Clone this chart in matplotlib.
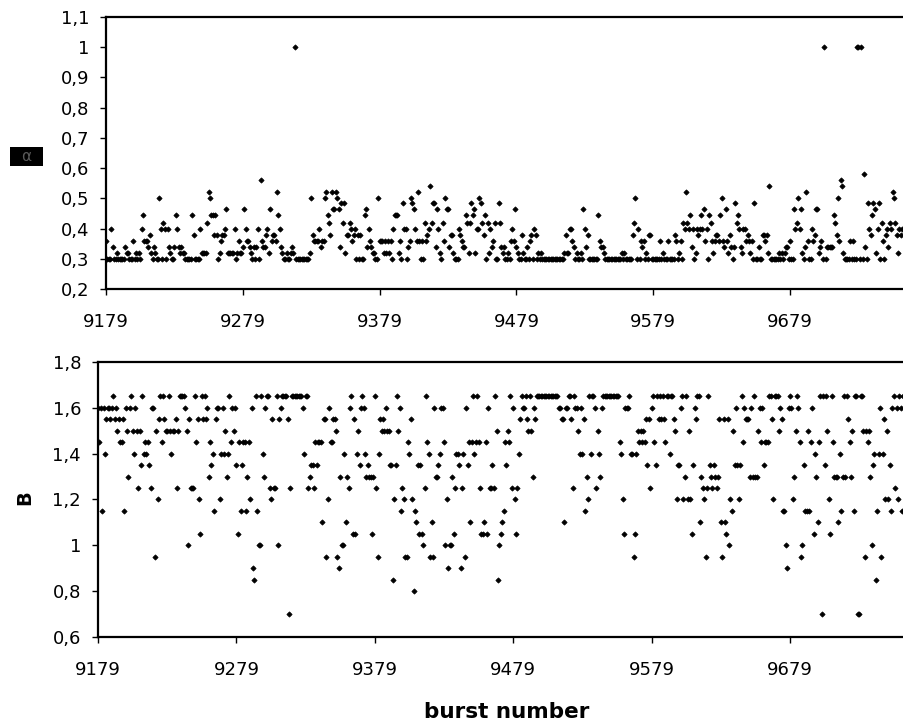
import numpy as np
import matplotlib
matplotlib.use('Agg')
import matplotlib.pyplot as plt
import matplotlib.patches as patches
from matplotlib.ticker import FixedLocator, FuncFormatter

# first burst shown, one value per burst from here on
first_burst = 9179

# upper panel values (one per burst)
alpha = [
    0.36, 0.30, 0.30, 0.30, 0.40, 0.34, 0.30, 0.30, 0.32, 0.30,
    0.30, 0.30, 0.30, 0.30, 0.34, 0.32, 0.32, 0.30, 0.30, 0.30,
    0.36, 0.30, 0.32, 0.30, 0.32, 0.30, 0.40, 0.445, 0.36, 0.36,
    0.36, 0.34, 0.38, 0.32, 0.30, 0.34, 0.32, 0.30, 0.30, 0.50,
    0.40, 0.30, 0.42, 0.40, 0.30, 0.40, 0.34, 0.32, 0.30, 0.30,
    0.34, 0.445, 0.40, 0.34, 0.32, 0.34, 0.32, 0.32, 0.30, 0.30,
    0.30, 0.30, 0.30, 0.445, 0.38, 0.30, 0.30, 0.30, 0.30, 0.40,
    0.32, 0.32, 0.32, 0.32, 0.42, 0.52, 0.50, 0.445, 0.445, 0.38,
    0.445, 0.38, 0.30, 0.32, 0.36, 0.38, 0.38, 0.40, 0.465, 0.32,
    0.32, 0.32, 0.32, 0.32, 0.40, 0.30, 0.32, 0.36, 0.32, 0.32,
    0.34, 0.465, 0.40, 0.36, 0.36, 0.34, 0.32, 0.30, 0.34, 0.30,
    0.34, 0.40, 0.30, 0.56, 0.36, 0.34, 0.34, 0.38, 0.40, 0.32,
    0.465, 0.36, 0.38, 0.38, 0.36, 0.52, 0.445, 0.40, 0.34, 0.32,
    0.30, 0.30, 0.32, 0.30, 0.30, 0.32, 0.34, 0.32, 1.00, 0.30,
    0.30, 0.30, 0.30, 0.30, 0.30, 0.30, 0.30, 0.30, 0.30, 0.32,
    0.50, 0.38, 0.36, 0.36, 0.36, 0.36, 0.40, 0.34, 0.36, 0.36,
    0.50, 0.52, 0.445, 0.42, 0.38, 0.52, 0.465, 0.465, 0.52, 0.50,
    0.465, 0.34, 0.485, 0.42, 0.485, 0.32, 0.38, 0.38, 0.42, 0.40,
    0.36, 0.38, 0.40, 0.30, 0.38, 0.30, 0.38, 0.30, 0.30, 0.445,
    0.465, 0.34, 0.40, 0.36, 0.34, 0.32, 0.32, 0.30, 0.30, 0.50,
    0.36, 0.36, 0.36, 0.32, 0.36, 0.32, 0.36, 0.32, 0.36, 0.30,
    0.40, 0.445, 0.445, 0.445, 0.32, 0.36, 0.30, 0.485, 0.40, 0.40,
    0.30, 0.34, 0.36, 0.50, 0.485, 0.465, 0.40, 0.36, 0.52, 0.36,
    0.30, 0.36, 0.30, 0.42, 0.36, 0.38, 0.40, 0.54, 0.42, 0.485,
    0.485, 0.34, 0.465, 0.40, 0.32, 0.30, 0.42, 0.36, 0.50, 0.465,
    0.465, 0.34, 0.38, 0.38, 0.32, 0.30, 0.30, 0.30, 0.40, 0.38,
    0.36, 0.34, 0.34, 0.445, 0.42, 0.32, 0.42, 0.485, 0.445, 0.465,
    0.32, 0.40, 0.40, 0.50, 0.485, 0.42, 0.38, 0.445, 0.30, 0.42,
    0.32, 0.40, 0.34, 0.36, 0.42, 0.30, 0.30, 0.485, 0.42, 0.34,
    0.32, 0.34, 0.30, 0.30, 0.32, 0.30, 0.36, 0.40, 0.36, 0.465,
    0.34, 0.32, 0.30, 0.30, 0.38, 0.32, 0.30, 0.30, 0.34, 0.30,
    0.36, 0.38, 0.30, 0.40, 0.38, 0.30, 0.32, 0.30, 0.32, 0.30,
    0.30, 0.30, 0.30, 0.30, 0.30, 0.30, 0.30, 0.30, 0.30, 0.30,
    0.30, 0.30, 0.30, 0.30, 0.30, 0.32, 0.38, 0.32, 0.32, 0.40,
    0.40, 0.36, 0.34, 0.30, 0.32, 0.30, 0.30, 0.32, 0.30, 0.465,
    0.40, 0.34, 0.38, 0.30, 0.30, 0.30, 0.30, 0.30, 0.30, 0.30,
    0.445, 0.36, 0.34, 0.34, 0.32, 0.30, 0.30, 0.30, 0.30, 0.30,
    0.30, 0.30, 0.30, 0.30, 0.30, 0.30, 0.30, 0.32, 0.30, 0.32,
    0.30, 0.30, 0.30, 0.30, 0.30, 0.38, 0.42, 0.50, 0.30, 0.40,
    0.30, 0.36, 0.34, 0.36, 0.30, 0.32, 0.30, 0.38, 0.38, 0.30,
    0.30, 0.30, 0.30, 0.30, 0.30, 0.36, 0.30, 0.32, 0.30, 0.30,
    0.30, 0.36, 0.30, 0.30, 0.30, 0.30, 0.38, 0.36, 0.30, 0.32,
    0.36, 0.30, 0.42, 0.40, 0.52, 0.42, 0.40, 0.445, 0.34, 0.40,
    0.30, 0.32, 0.40, 0.38, 0.40, 0.445, 0.40, 0.465, 0.36, 0.40,
    0.30, 0.445, 0.42, 0.36, 0.32, 0.36, 0.38, 0.38, 0.36, 0.445,
    0.50, 0.36, 0.34, 0.465, 0.36, 0.32, 0.38, 0.34, 0.30, 0.34,
    0.485, 0.42, 0.445, 0.40, 0.34, 0.32, 0.40, 0.40, 0.36, 0.38,
    0.36, 0.32, 0.36, 0.30, 0.485, 0.30, 0.30, 0.34, 0.30, 0.30,
    0.38, 0.38, 0.36, 0.38, 0.32, 0.54, 0.30, 0.30, 0.30, 0.30,
    0.30, 0.30, 0.32, 0.30, 0.32, 0.30, 0.32, 0.34, 0.34, 0.30,
    0.36, 0.30, 0.30, 0.465, 0.40, 0.42, 0.50, 0.40, 0.465, 0.32,
    0.30, 0.34, 0.52, 0.36, 0.30, 0.30, 0.40, 0.36, 0.38, 0.465,
    0.465, 0.32, 0.34, 0.36, 0.30, 1.00, 0.30, 0.34, 0.34, 0.34,
    0.34, 0.34, 0.445, 0.42, 0.38, 0.50, 0.36, 0.56, 0.54, 0.32,
    0.30, 0.30, 0.30, 0.30, 0.36, 0.30, 0.36, 0.30, 0.30, 1.00,
    1.00, 0.30, 1.00, 0.30, 0.58, 0.34, 0.30, 0.485, 0.40, 0.38,
    0.445, 0.485, 0.465, 0.32, 0.40, 0.485, 0.30, 0.42, 0.36, 0.30,
    0.38, 0.40, 0.34, 0.42, 0.40, 0.52, 0.50, 0.42, 0.38, 0.32,
    0.40, 0.38, 0.40,
]

# lower panel values, B
B = [
    1.60, 1.45, 1.60, 1.15, 1.60, 1.40, 1.55, 1.60, 1.60, 1.55,
    1.60, 1.65, 1.55, 1.60, 1.50, 1.55, 1.45, 1.45, 1.55, 1.15,
    1.60, 1.50, 1.30, 1.60, 1.65, 1.50, 1.40, 1.60, 1.50, 1.25,
    1.50, 1.35, 1.65, 1.40, 1.45, 1.40, 1.45, 1.35, 1.25, 1.60,
    1.60, 0.95, 1.50, 1.20, 1.55, 1.65, 1.45, 1.65, 1.55, 1.50,
    1.50, 1.65, 1.50, 1.40, 1.50, 1.50, 1.55, 1.25, 1.50, 1.65,
    1.65, 1.65, 1.65, 1.60, 1.50, 1.00, 1.55, 1.25, 1.25, 1.25,
    1.65, 1.45, 1.55, 1.20, 1.05, 1.65, 1.55, 1.65, 1.55, 1.60,
    1.30, 1.45, 1.35, 1.40, 1.15, 1.55, 1.60, 1.60, 1.20, 1.40,
    1.60, 1.40, 1.50, 1.30, 1.40, 1.65, 1.45, 1.60, 1.50, 1.60,
    1.35, 1.05, 1.45, 1.15, 1.35, 1.45, 1.45, 1.15, 1.30, 1.45,
    1.20, 1.60, 0.90, 0.85, 1.65, 1.15, 1.00, 1.00, 1.65, 1.40,
    1.30, 1.60, 1.65, 1.65, 1.25, 1.20, 1.55, 1.25, 1.25, 1.65,
    1.00, 1.55, 1.60, 1.65, 1.65, 1.65, 1.65, 1.55, 0.70, 1.25,
    1.65, 1.65, 1.65, 1.65, 1.65, 1.65, 1.65, 1.65, 1.60, 1.40,
    1.65, 1.65, 1.25, 1.30, 1.35, 1.35, 1.25, 1.45, 1.35, 1.45,
    1.45, 1.45, 1.10, 1.55, 1.55, 0.95, 1.20, 1.60, 1.45, 1.45,
    1.55, 1.55, 1.50, 0.95, 0.90, 1.30, 1.00, 1.00, 1.40, 1.10,
    1.30, 1.25, 1.60, 1.65, 1.05, 1.55, 1.05, 1.40, 1.50, 1.35,
    1.60, 1.65, 1.60, 1.40, 1.30, 1.35, 1.30, 1.30, 1.05, 1.30,
    1.65, 1.25, 0.95, 1.40, 1.55, 1.50, 1.55, 1.50, 1.60, 1.50,
    1.50, 1.35, 1.35, 0.85, 1.20, 1.35, 1.65, 1.50, 1.60, 1.15,
    1.25, 1.20, 0.95, 0.95, 1.45, 1.40, 1.55, 1.20, 0.80, 1.15,
    1.10, 1.35, 1.05, 1.35, 1.05, 1.00, 1.25, 1.65, 1.45, 1.40,
    0.95, 1.10, 0.95, 1.60, 1.30, 1.30, 1.35, 1.40, 1.60, 1.60,
    1.45, 1.00, 1.20, 0.90, 1.00, 1.00, 1.30, 1.05, 1.25, 1.40,
    1.40, 1.35, 0.90, 1.25, 1.40, 0.95, 1.60, 1.35, 1.45, 1.10,
    1.45, 1.65, 1.40, 1.45, 1.65, 1.45, 1.25, 1.05, 1.05, 1.10,
    1.45, 1.05, 1.60, 1.25, 1.25, 1.35, 1.25, 1.65, 1.50, 0.85,
    1.00, 1.05, 1.10, 1.15, 1.45, 1.35, 1.50, 1.45, 1.65, 1.25,
    1.60, 1.20, 1.05, 1.25, 1.40, 1.55, 1.65, 1.60, 1.60, 1.65,
    1.55, 1.50, 1.65, 1.50, 1.30, 1.60, 1.55, 1.65, 1.65, 1.65,
    1.65, 1.65, 1.65, 1.65, 1.65, 1.65, 1.65, 1.65, 1.65, 1.65,
    1.65, 1.65, 1.65, 1.60, 1.60, 1.55, 1.55, 1.10, 1.60, 1.60,
    1.65, 1.65, 1.55, 1.25, 1.65, 1.60, 1.60, 1.50, 1.40, 1.60,
    1.40, 1.55, 1.15, 1.30, 1.20, 1.65, 1.40, 1.65, 1.65, 1.60,
    1.25, 1.50, 1.40, 1.30, 1.60, 1.65, 1.65, 1.65, 1.65, 1.65,
    1.65, 1.65, 1.65, 1.65, 1.65, 1.65, 1.65, 1.45, 1.40, 1.20,
    1.05, 1.60, 1.60, 1.60, 1.65, 1.40, 1.40, 0.95, 1.05, 1.40,
    1.50, 1.45, 1.50, 1.45, 1.50, 1.45, 1.55, 1.35, 1.55, 1.25,
    1.60, 1.65, 1.45, 1.35, 1.65, 1.55, 1.65, 1.55, 1.65, 1.55,
    1.45, 1.65, 1.65, 1.40, 1.65, 1.65, 1.55, 1.50, 1.20, 1.35,
    1.35, 1.60, 1.65, 1.20, 1.30, 1.65, 1.20, 1.50, 1.20, 1.05,
    1.35, 1.60, 1.55, 1.65, 1.65, 1.10, 1.30, 1.25, 1.20, 0.95,
    1.25, 1.65, 1.35, 1.30, 1.25, 1.35, 1.30, 1.25, 1.30, 1.55,
    1.10, 0.95, 1.55, 1.10, 1.05, 1.55, 1.00, 1.20, 1.15, 1.50,
    1.35, 1.60, 1.35, 1.20, 1.35, 1.65, 1.45, 1.60, 1.55, 1.55,
    1.55, 1.30, 1.60, 1.30, 1.65, 1.30, 1.30, 1.50, 1.60, 1.45,
    1.60, 1.35, 1.45, 1.45, 1.45, 1.65, 1.65, 1.55, 1.20, 1.65,
    1.65, 1.65, 1.50, 1.60, 1.55, 1.15, 1.15, 1.00, 0.90, 1.60,
    1.65, 1.60, 1.20, 1.30, 1.50, 1.65, 1.60, 1.45, 0.95, 1.00,
    1.35, 1.15, 1.15, 1.50, 1.15, 1.45, 1.60, 1.05, 1.40, 1.30,
    1.10, 1.45, 1.65, 0.70, 1.65, 1.35, 1.65, 1.50, 1.20, 1.05,
    1.65, 1.45, 1.30, 1.30, 1.30, 1.10, 1.40, 1.15, 1.30, 1.65,
    1.30, 1.65, 1.55, 1.45, 1.30, 1.50, 1.15, 1.65, 1.65, 0.70,
    0.70, 1.65, 1.65, 1.50, 0.95, 1.50, 1.45, 1.50, 1.30, 1.00,
    1.35, 1.40, 0.85, 1.15, 1.40, 1.60, 0.95, 1.40, 1.55, 1.20,
    1.50, 1.20, 1.35, 1.15, 1.60, 1.65, 1.25, 1.60, 1.20, 1.65,
    1.60, 1.15, 1.65,
]

x_ticks = [9179, 9279, 9379, 9479, 9579, 9679]
alpha_ticks = [0.2, 0.3, 0.4, 0.5, 0.6, 0.7, 0.8, 0.9, 1.0, 1.1]
B_ticks = [0.6, 0.8, 1.0, 1.2, 1.4, 1.6, 1.8]

W, H = 904, 727
fig = plt.figure(figsize=(W / 100, H / 100), dpi=100)
fig.patch.set_facecolor('white')


def axes_px(left, top, right, bottom):
    # place axes by pixel edges (right edge runs past the figure, as in the original)
    return fig.add_axes([left / W, 1 - bottom / H, (right - left) / W, (bottom - top) / H])


def comma(v, pos):
    return ('%g' % v).replace('.', ',')


ax1 = axes_px(106, 17, 106 + 600 * 1.368, 289)
ax2 = axes_px(98, 361.7, 98 + 600 * 1.384, 637.3)

x1 = first_burst + np.arange(len(alpha))
x2 = first_burst + np.arange(len(B))
ax1.plot(x1, alpha, linestyle='none', marker='D', markersize=2.7, color='black',
         mec='black', mew=0.5)
ax2.plot(x2, B, linestyle='none', marker='D', markersize=2.7, color='black',
         mec='black', mew=0.5)

for ax, yt, ylim in [(ax1, alpha_ticks, (0.2, 1.1)), (ax2, B_ticks, (0.6, 1.8))]:
    ax.set_xlim(9179, 9779)
    ax.set_ylim(*ylim)
    ax.xaxis.set_major_locator(FixedLocator(x_ticks))
    ax.yaxis.set_major_locator(FixedLocator(yt))
    ax.yaxis.set_major_formatter(FuncFormatter(comma))
    for s in ax.spines.values():
        s.set_linewidth(1.6)
        s.set_color('black')
    ax.tick_params(axis='both', direction='out', length=4.2, width=1, colors='black',
                   labelsize=13)
    ax.tick_params(axis='y', pad=8)
    ax.tick_params(axis='x', pad=13)

# y label of upper panel: a small dark box with a symbol
fig.patches.append(patches.Rectangle((10 / W, 1 - 166 / H), 33 / W, 19 / H,
                                     transform=fig.transFigure, facecolor='black',
                                     edgecolor='none'))
fig.text(26.5 / W, 1 - 156.5 / H, 'α', color='#5a5a5a', ha='center', va='center',
         fontsize=11)

fig.text(25 / W, 1 - 498 / H, 'B', rotation=90, ha='center', va='center',
         fontsize=14, fontweight='bold')
fig.text(507 / W, 1 - 712 / H, 'burst number', ha='center', va='center',
         fontsize=15.5, fontweight='bold')

plt.savefig('out.png', dpi=100, facecolor='white')
